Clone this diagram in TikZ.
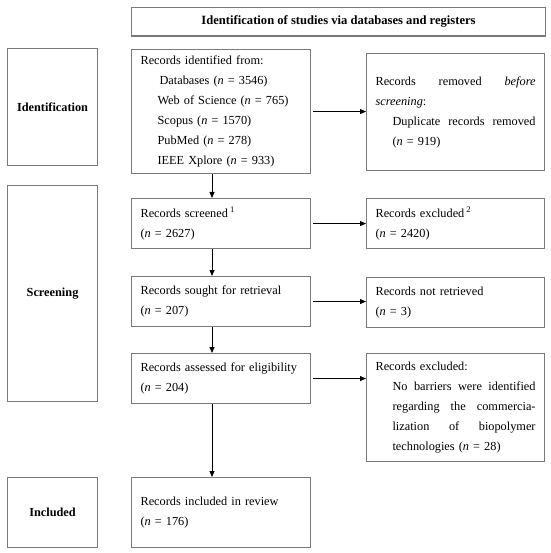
\documentclass[tikz,border=0pt]{standalone}
\usepackage{fontspec}
\setmainfont{Liberation Serif}
\usetikzlibrary{arrows.meta}
\definecolor{boxgray}{HTML}{7A7A7A}
\newcommand{\jline}[2][0pt]{\hspace*{#1}\makebox[\dimexpr\linewidth-#1][l]{#2}}
\begin{document}
\begin{tikzpicture}[x=1pt,y=-1pt,
  txt/.style={font=\fontsize{12.3}{20}\selectfont},
  box/.style={draw=boxgray, line width=1.1pt, rectangle, inner xsep=9pt, inner ysep=0pt,
    anchor=north west, align=left, txt},
  lbox/.style={draw=boxgray, line width=1.1pt, rectangle, inner sep=0pt,
    anchor=north west, align=center, font=\fontsize{12.3}{20}\selectfont\bfseries},
  arr/.style={-{Triangle[length=6pt,width=5pt]}, line width=0.8pt, black}]
\useasboundingbox (0,0) rectangle (550,553);
% header
\node[lbox, minimum width=414pt, minimum height=28.5pt, font=\fontsize{12.6}{20}\selectfont\bfseries] (head) at (131,7)
  {Identification of studies via databases and registers};
% left column
\node[lbox, minimum width=90pt, minimum height=117pt] (lid) at (7,48) {Identification};
\node[lbox, minimum width=90pt, minimum height=216pt] (lsc) at (7,185) {Screening};
\node[lbox, minimum width=90pt, minimum height=70pt] (lin) at (7,477) {Included};
% middle column
\node[box, text width=161pt, minimum height=124pt] (ident) at (131,49)
  {Records identified from:\\
   \hspace*{19pt}Databases (\textit{n} = 3546)\\
   \hspace*{17pt}Web of Science (\textit{n} = 765)\\
   \hspace*{17pt}Scopus (\textit{n} = 1570)\\
   \hspace*{17pt}PubMed (\textit{n} = 278)\\
   \hspace*{17pt}IEEE Xplore (\textit{n} = 933)};
\node[box, text width=161pt, minimum height=50pt] (scr) at (131,198)
  {Records screened\,\textsuperscript{1}\\(\textit{n} = 2627)};
\node[box, text width=161pt, minimum height=50pt] (sought) at (131,276)
  {Records sought for retrieval\\(\textit{n} = 207)};
\node[box, text width=161pt, minimum height=50pt] (assess) at (131,353)
  {Records assessed for eligibility\\(\textit{n} = 204)};
\node[box, text width=161pt, minimum height=70pt] (incl) at (131,477)
  {Records included in review\\(\textit{n} = 176)};
% right column
\node[box, text width=160pt, minimum height=117pt] (removed) at (366,53)
  {\jline{Records\hfill removed\hfill \textit{before}}\\
   \textit{screening}:\\
   \jline[17pt]{Duplicate\hfill records\hfill removed}\\
   \hspace*{17pt}(\textit{n} = 919)};
\node[box, text width=160pt, minimum height=50pt] (exc1) at (366,198)
  {Records excluded\,\textsuperscript{2}\\(\textit{n} = 2420)};
\node[box, text width=160pt, minimum height=50pt] (notret) at (366,277)
  {Records not retrieved\\(\textit{n} = 3)};
\node[box, text width=160pt, minimum height=108pt] (exc2) at (366,353)
  {Records excluded:\\
   \jline[17pt]{No\hfill barriers\hfill were\hfill identified}\\
   \jline[17pt]{regarding\hfill the\hfill commercia-}\\
   \jline[17pt]{lization\hfill of\hfill biopolymer}\\
   \hspace*{17pt}technologies (\textit{n} = 28)};
% arrows
\coordinate (ax) at (212,0);
\draw[arr] (ident.south -| ax) -- (scr.north -| ax);
\draw[arr] (scr.south -| ax) -- (sought.north -| ax);
\draw[arr] (sought.south -| ax) -- (assess.north -| ax);
\draw[arr] (assess.south -| ax) -- (incl.north -| ax);
\draw[arr, shorten <=2pt] (ident.east) -- (ident.east -| removed.west);
\draw[arr, shorten <=2pt] (scr.east) -- (scr.east -| exc1.west);
\draw[arr, shorten <=2pt] (sought.east) -- (sought.east -| notret.west);
\draw[arr, shorten <=2pt] (assess.east) -- (assess.east -| exc2.west);
\end{tikzpicture}
\end{document}
